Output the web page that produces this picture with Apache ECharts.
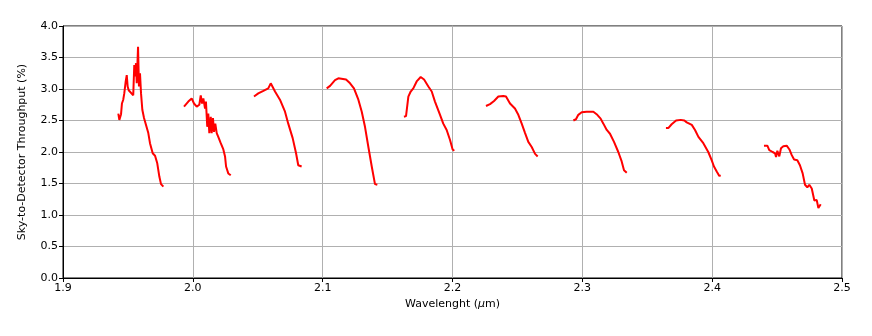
<!DOCTYPE html>
<html>
<head>
<meta charset="utf-8">
<script src="https://cdn.jsdelivr.net/npm/echarts@6/dist/echarts.min.js"></script>
<style>
html, body { margin: 0; padding: 0; background: #fff; }
#chart { width: 872px; height: 336px; }
</style>
</head>
<body>
<div id="chart"></div>
<script>
// spectral orders: [wavelength (um), throughput (%)]
var order1 = [[1.9426,2.61],[1.9434,2.51],[1.9447,2.60],[1.9454,2.77],[1.9464,2.83],[1.9472,2.93],[1.9483,3.12],[1.9491,3.22],[1.9498,3.04],[1.9506,2.98],[1.9521,2.96],[1.9541,2.90],[1.9549,3.38],[1.9557,3.20],[1.9562,3.41],[1.9568,3.09],[1.9578,3.67],[1.9585,3.04],[1.9593,3.25],[1.9601,2.93],[1.9611,2.67],[1.9624,2.54],[1.9639,2.51],[1.9657,2.30],[1.9670,2.14],[1.9691,1.98],[1.9709,1.94],[1.9726,1.82],[1.9742,1.61],[1.9755,1.49],[1.9773,1.45]];
var order2 = [[1.9932,2.72],[1.9965,2.80],[1.9991,2.85],[2.0009,2.77],[2.0030,2.72],[2.0050,2.75],[2.0061,2.90],[2.0071,2.77],[2.0081,2.85],[2.0094,2.69],[2.0101,2.80],[2.0111,2.40],[2.0119,2.61],[2.0127,2.30],[2.0138,2.56],[2.0145,2.30],[2.0155,2.54],[2.0163,2.32],[2.0173,2.45],[2.0184,2.30],[2.0196,2.24],[2.0215,2.14],[2.0235,2.04],[2.0248,1.93],[2.0256,1.77],[2.0273,1.66],[2.0292,1.63]];
var order3 = [[2.0471,2.88],[2.0504,2.93],[2.0543,2.97],[2.0581,3.01],[2.0600,3.09],[2.0615,3.08],[2.0633,2.96],[2.0671,2.83],[2.0710,2.64],[2.0735,2.45],[2.0769,2.22],[2.0795,1.98],[2.0812,1.79],[2.0838,1.77]];
var order4 = [[2.1031,3.01],[2.1057,3.05],[2.1095,3.14],[2.1121,3.17],[2.1180,3.15],[2.1211,3.09],[2.1241,3.01],[2.1275,2.83],[2.1301,2.64],[2.1326,2.40],[2.1352,2.08],[2.1378,1.77],[2.1403,1.49],[2.1421,1.48]];
var order5 = [[2.1626,2.56],[2.1642,2.57],[2.1660,2.88],[2.1678,2.96],[2.1698,3.01],[2.1724,3.12],[2.1755,3.19],[2.1781,3.15],[2.1814,3.04],[2.1840,2.96],[2.1865,2.80],[2.1904,2.59],[2.1929,2.45],[2.1955,2.35],[2.1981,2.19],[2.2001,2.04],[2.2014,2.02]];
var order6 = [[2.2258,2.73],[2.2289,2.76],[2.2320,2.81],[2.2353,2.88],[2.2391,2.89],[2.2412,2.88],[2.2443,2.77],[2.2481,2.69],[2.2507,2.59],[2.2533,2.45],[2.2559,2.30],[2.2584,2.16],[2.2610,2.08],[2.2636,1.97],[2.2656,1.93]];
var order7 = [[2.2931,2.50],[2.2951,2.52],[2.2969,2.59],[2.2995,2.63],[2.3033,2.64],[2.3085,2.64],[2.3110,2.60],[2.3141,2.53],[2.3162,2.45],[2.3188,2.35],[2.3213,2.29],[2.3244,2.16],[2.3277,2.00],[2.3303,1.85],[2.3321,1.71],[2.3342,1.67]];
var order8 = [[2.3644,2.38],[2.3662,2.38],[2.3688,2.44],[2.3722,2.50],[2.3758,2.51],[2.3786,2.50],[2.3804,2.47],[2.3843,2.43],[2.3868,2.35],[2.3894,2.24],[2.3932,2.14],[2.3970,2.00],[2.3996,1.87],[2.4014,1.77],[2.4035,1.69],[2.4055,1.62],[2.4066,1.63]];
var order9 = [[2.4399,2.10],[2.4425,2.10],[2.4440,2.03],[2.4466,2.00],[2.4484,1.98],[2.4492,1.92],[2.4502,2.02],[2.4517,1.93],[2.4530,2.06],[2.4548,2.09],[2.4574,2.10],[2.4595,2.04],[2.4613,1.95],[2.4631,1.88],[2.4656,1.87],[2.4676,1.79],[2.4697,1.66],[2.4715,1.48],[2.4733,1.44],[2.4748,1.48],[2.4767,1.42],[2.4787,1.23],[2.4805,1.24],[2.4818,1.11],[2.4836,1.17]];
var orders = [order1, order2, order3, order4, order5, order6, order7, order8, order9];

var font = 'DejaVu Sans';
var myChart = echarts.init(document.getElementById('chart'));

var series = orders.map(function (d) {
	return {
		type: 'line',
		data: d,
		showSymbol: false,
		lineStyle: { color: '#ff0000', width: 2 },
		animation: false
	};
});

var option = {
	animation: false,
	grid: {
		left: 63, right: 30, top: 26, bottom: 58,
		show: true, borderColor: '#000', borderWidth: 1, backgroundColor: 'transparent'
	},
	xAxis: {
		type: 'value', min: 1.9, max: 2.5, interval: 0.1,
		name: 'Wavelenght ({i|μ}m)',
		nameLocation: 'middle', nameGap: 20,
		nameTextStyle: { fontFamily: font, fontSize: 11, color: '#000', rich: { i: { fontFamily: font, fontSize: 11, fontStyle: 'italic', color: '#000' } } },
		axisLine: { lineStyle: { color: '#000', width: 1 } },
		axisTick: { show: true, length: 4, lineStyle: { color: '#000' } },
		axisLabel: { fontFamily: font, fontSize: 11, color: '#000', margin: 5, formatter: function (v) { return v.toFixed(1); } },
		splitLine: { show: true, lineStyle: { color: '#b0b0b0', width: 1 } }
	},
	yAxis: {
		type: 'value', min: 0, max: 4, interval: 0.5,
		name: 'Sky-to-Detector Throughput (%)',
		nameLocation: 'middle', nameGap: 35, nameRotate: 90,
		nameTextStyle: { fontFamily: font, fontSize: 11, color: '#000' },
		axisLine: { show: true, lineStyle: { color: '#000', width: 1 } },
		axisTick: { show: true, length: 4, lineStyle: { color: '#000' } },
		axisLabel: { fontFamily: font, fontSize: 11, color: '#000', margin: 5, formatter: function (v) { return v.toFixed(1); } },
		splitLine: { show: true, lineStyle: { color: '#b0b0b0', width: 1 } }
	},
	series: series
};
myChart.setOption(option);
</script>
</body>
</html>
